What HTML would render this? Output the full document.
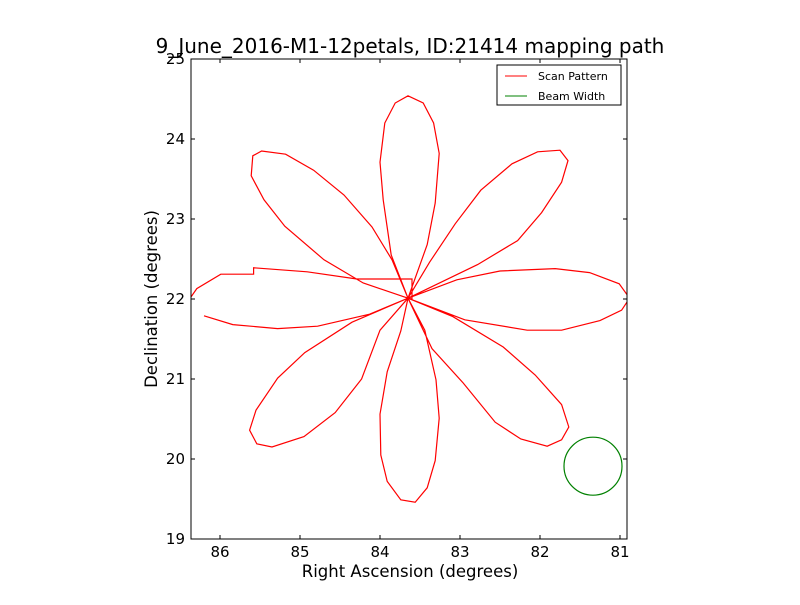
<!DOCTYPE html>
<html><head><meta charset="utf-8"><style>
body{margin:0;background:#fff;}
svg text{font-family:"DejaVu Sans","Liberation Sans",sans-serif;fill:#000;}
</style></head><body>
<svg id="chart" width="800" height="600" xmlns="http://www.w3.org/2000/svg">
<rect width="800" height="600" fill="#fff"/>
<defs><clipPath id="clip"><rect x="191" y="59" width="436" height="480"/></clipPath></defs>
<text x="410" y="53" text-anchor="middle" font-size="20">9_June_2016-M1-12petals, ID:21414 mapping path</text>
<g id="marks" clip-path="url(#clip)"></g>
<rect x="191" y="59" width="436" height="480" fill="none" stroke="#000" stroke-width="1"/>
<g id="ticks"></g>
<text x="410" y="577" text-anchor="middle" font-size="16.5">Right Ascension (degrees)</text>
<text transform="translate(157,299) rotate(-90)" text-anchor="middle" font-size="16.5">Declination (degrees)</text>
<g>
<rect x="497" y="65" width="124" height="40" fill="#fff" stroke="#000" stroke-width="1"/>
<g><line x1="505" y1="76" x2="527" y2="76" stroke="red"/><text x="538" y="80" font-size="11">Scan Pattern</text></g>
<g><line x1="505" y1="96" x2="527" y2="96" stroke="green"/><text x="538" y="100" font-size="11">Beam Width</text></g>
</g>
</svg>
<script>
const raValues=[86.20,85.84,85.28,84.78,84.13,83.65,
83.86,83.96,84.0,83.94,83.81,83.65,83.46,83.33,83.26,83.31,83.41,83.65,
82.78,82.28,81.98,81.73,81.65,81.75,82.03,82.35,82.74,83.06,83.38,83.65,
83.04,82.5,81.81,81.38,81.01,80.88,80.98,81.25,81.73,82.16,82.94,83.65,
83.09,82.46,82.06,81.73,81.64,81.73,81.91,82.24,82.56,82.96,83.35,83.65,
83.44,83.30,83.26,83.31,83.41,83.56,83.74,83.91,83.99,84.0,83.91,83.74,83.65,
84.0,84.23,84.56,84.95,85.35,85.54,85.63,85.55,85.28,84.94,84.35,83.65,
84.21,84.70,85.19,85.45,85.61,85.59,85.48,85.18,84.83,84.45,84.10,83.85,83.65,
83.60,83.60,84.29,84.91,85.58,85.58,85.99,86.29,86.38];
const decValues=[21.79,21.68,21.63,21.66,21.81,22.01,
22.55,23.24,23.71,24.20,24.45,24.54,24.45,24.20,23.82,23.20,22.68,22.01,
22.43,22.73,23.08,23.46,23.73,23.86,23.84,23.69,23.36,22.94,22.46,22.01,
22.24,22.35,22.38,22.33,22.19,22.01,21.86,21.73,21.61,21.61,21.74,22.01,
21.78,21.40,21.05,20.68,20.40,20.24,20.16,20.25,20.46,20.95,21.38,22.01,
21.61,20.99,20.51,19.98,19.64,19.46,19.49,19.72,20.05,20.56,21.09,21.60,22.01,
21.61,21.0,20.58,20.28,20.15,20.19,20.36,20.61,21.01,21.33,21.71,22.01,
22.20,22.49,22.91,23.24,23.54,23.79,23.85,23.81,23.61,23.30,22.90,22.49,22.01,
22.0,22.25,22.25,22.34,22.39,22.31,22.31,22.13,22.0];
const beamCenter=[81.3375,19.91];
const beamRadius=0.3625;
const xTicks=[86,85,84,83,82,81];
const yTicks=[19,20,21,22,23,24,25];
const NS='http://www.w3.org/2000/svg';
function xs(ra){return 380-(ra-84)*80;}
function ys(d){return 59+(25-d)*80;}
const marks=document.getElementById('marks');
const pl=document.createElementNS(NS,'polyline');
pl.setAttribute('points',raValues.map((r,i)=>xs(r)+','+ys(decValues[i])).join(' '));
pl.setAttribute('fill','none');pl.setAttribute('stroke','red');pl.setAttribute('stroke-width','1.2');


marks.appendChild(pl);
const c=document.createElementNS(NS,'circle');
c.setAttribute('cx',xs(beamCenter[0]));c.setAttribute('cy',ys(beamCenter[1]));
c.setAttribute('r',beamRadius*80);c.setAttribute('fill','none');c.setAttribute('stroke','green');c.setAttribute('stroke-width','1.2');


marks.appendChild(c);
const tg=document.getElementById('ticks');
xTicks.forEach(t=>{const x=xs(t);
 const g=document.createElementNS(NS,'g');
 
 
 g.innerHTML=`<line x1="${x}" y1="539" x2="${x}" y2="535" stroke="#000"/><line x1="${x}" y1="59" x2="${x}" y2="63" stroke="#000"/><text x="${x}" y="557" text-anchor="middle" font-size="15">${t}</text>`;
 tg.appendChild(g);});
yTicks.forEach(t=>{const y=ys(t);
 const g=document.createElementNS(NS,'g');
 
 
 g.innerHTML=`<line x1="191" y1="${y}" x2="195" y2="${y}" stroke="#000"/><line x1="627" y1="${y}" x2="623" y2="${y}" stroke="#000"/><text x="185" y="${y+5}" text-anchor="end" font-size="15">${t}</text>`;
 tg.appendChild(g);});
</script>
</body></html>
